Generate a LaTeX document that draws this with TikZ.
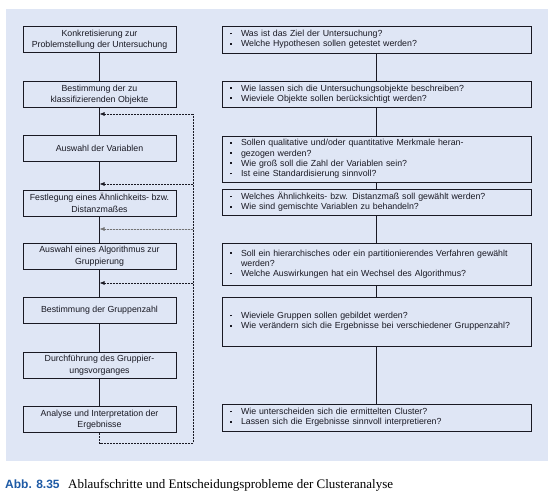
\documentclass[tikz,border=0pt]{standalone}
\usepackage{fontspec}
\setmainfont{Liberation Serif}
\setsansfont{Liberation Sans}
\usetikzlibrary{arrows.meta}
\definecolor{panel}{RGB}{223,230,245}
\definecolor{capblue}{RGB}{30,90,165}
\definecolor{ink}{RGB}{25,25,35}
\newcommand{\bl}{\makebox[11pt][l]{\raisebox{2.2pt}{\rule{1.7pt}{1.7pt}}}}
\newcommand{\hg}{\hspace*{11pt}}
\begin{document}
\begin{tikzpicture}[x=1pt,y=-1pt,
  lbox/.style={draw=ink, line width=0.8pt, minimum width=153pt, minimum height=26pt,
    inner sep=0pt, align=center, text=ink, font=\sffamily\fontsize{8.8}{11.5}\selectfont},
  rbox/.style={draw=ink, line width=0.8pt, inner xsep=8pt, inner ysep=0pt,
    text width=293pt, align=left, text=ink, font=\sffamily\fontsize{8.8}{10.2}\selectfont},
  conn/.style={draw=ink, line width=0.8pt},
  fbline/.style={draw=ink, line width=0.7pt, dash pattern=on 2pt off 1pt},
  fbarrow/.style={fbline, -{Latex[length=5pt,width=4pt]}}
]
\useasboundingbox (0,0) rectangle (556,495);
\fill[panel] (6,9) rectangle (548,461);

% left column
\node[lbox] (B1) at (99.5,39.5) {Konkretisierung zur\\Problemstellung der Untersuchung};
\node[lbox] (B2) at (99.5,94.5) {Bestimmung der zu\\klassifizierenden Objekte};
\node[lbox] (B3) at (99.5,148.5) {Auswahl der Variablen};
\node[lbox] (B4) at (99.5,203) {Festlegung eines Ähnlichkeits- bzw.\\Distanzmaßes};
\node[lbox] (B5) at (99.5,256) {Auswahl eines Algorithmus zur\\Gruppierung};
\node[lbox] (B6) at (99.5,310) {Bestimmung der Gruppenzahl};
\node[lbox] (B7) at (99.5,365) {Durchführung des Gruppier-\\ungsvorganges};
\node[lbox] (B8) at (99.5,419.5) {Analyse und Interpretation der\\Ergebnisse};

% right column
\node[rbox, minimum height=27pt] (R1) at (376.5,39.5)
  {\bl Was ist das Ziel der Untersuchung?\\\bl Welche Hypothesen sollen getestet werden?};
\node[rbox, minimum height=26pt] (R2) at (376.5,94)
  {\bl Wie lassen sich die Untersuchungsobjekte beschreiben?\\\bl Wieviele Objekte sollen berücksichtigt werden?};
\node[rbox, minimum height=46pt] (R3) at (376.5,159)
  {\bl Sollen qualitative und/oder quantitative Merkmale heran-\\\bl gezogen werden?\\\bl Wie groß soll die Zahl der Variablen sein?\\\bl Ist eine Standardisierung sinnvoll?};
\node[rbox, minimum height=26pt] (R4) at (376.5,202)
  {\bl Welches Ähnlichkeits- bzw. Distanzmaß soll gewählt werden?\\\bl Wie sind gemischte Variablen zu behandeln?};
\node[rbox, minimum height=42pt] (R5) at (376.5,264)
  {\bl Soll ein hierarchisches oder ein partitionierendes Verfahren gewählt\\\hg werden?\\\bl Welche Auswirkungen hat ein Wechsel des Algorithmus?};
\node[rbox, minimum height=49pt] (R6) at (376.5,321.5)
  {\bl Wieviele Gruppen sollen gebildet werden?\\\bl Wie verändern sich die Ergebnisse bei verschiedener Gruppenzahl?};
\node[rbox, minimum height=27pt] (R8) at (376.5,417.5)
  {\bl Wie unterscheiden sich die ermittelten Cluster?\\\bl Lassen sich die Ergebnisse sinnvoll interpretieren?};

% connectors
\draw[conn] (B1) -- (B2) -- (B3) -- (B4) -- (B5) -- (B6) -- (B7) -- (B8);
\draw[conn] (R1) -- (R2) -- (R3) -- (R4) -- (R5) -- (R6) -- (R8);

% feedback loop
\coordinate (f1) at (193,114);
\coordinate (f2) at (193,184);
\coordinate (f3) at (193,229);
\coordinate (f4) at (193,283);
\draw[fbline] (B8.south) -- ++(0,10.5) -| (f1);
\draw[fbarrow] (f1) -- (f1 -| B2.south);
\draw[fbarrow] (f2) -- (f2 -| B3.south);
\draw[fbarrow, draw=black!55, fill=black!70] (f3) -- (f3 -| B4.south);
\draw[fbarrow] (f4) -- (f4 -| B5.south);

% caption
\node[anchor=base west, inner sep=0pt, text=capblue, font=\sffamily\bfseries\fontsize{12}{14}\selectfont] (cap1) at (5,488) {Abb. 8.35};
\node[anchor=base west, inner sep=0pt, text=black, font=\fontsize{13}{15}\selectfont] (cap2) at (68,488) {Ablaufschritte und Entscheidungsprobleme der Clusteranalyse};
\end{tikzpicture}
\end{document}
